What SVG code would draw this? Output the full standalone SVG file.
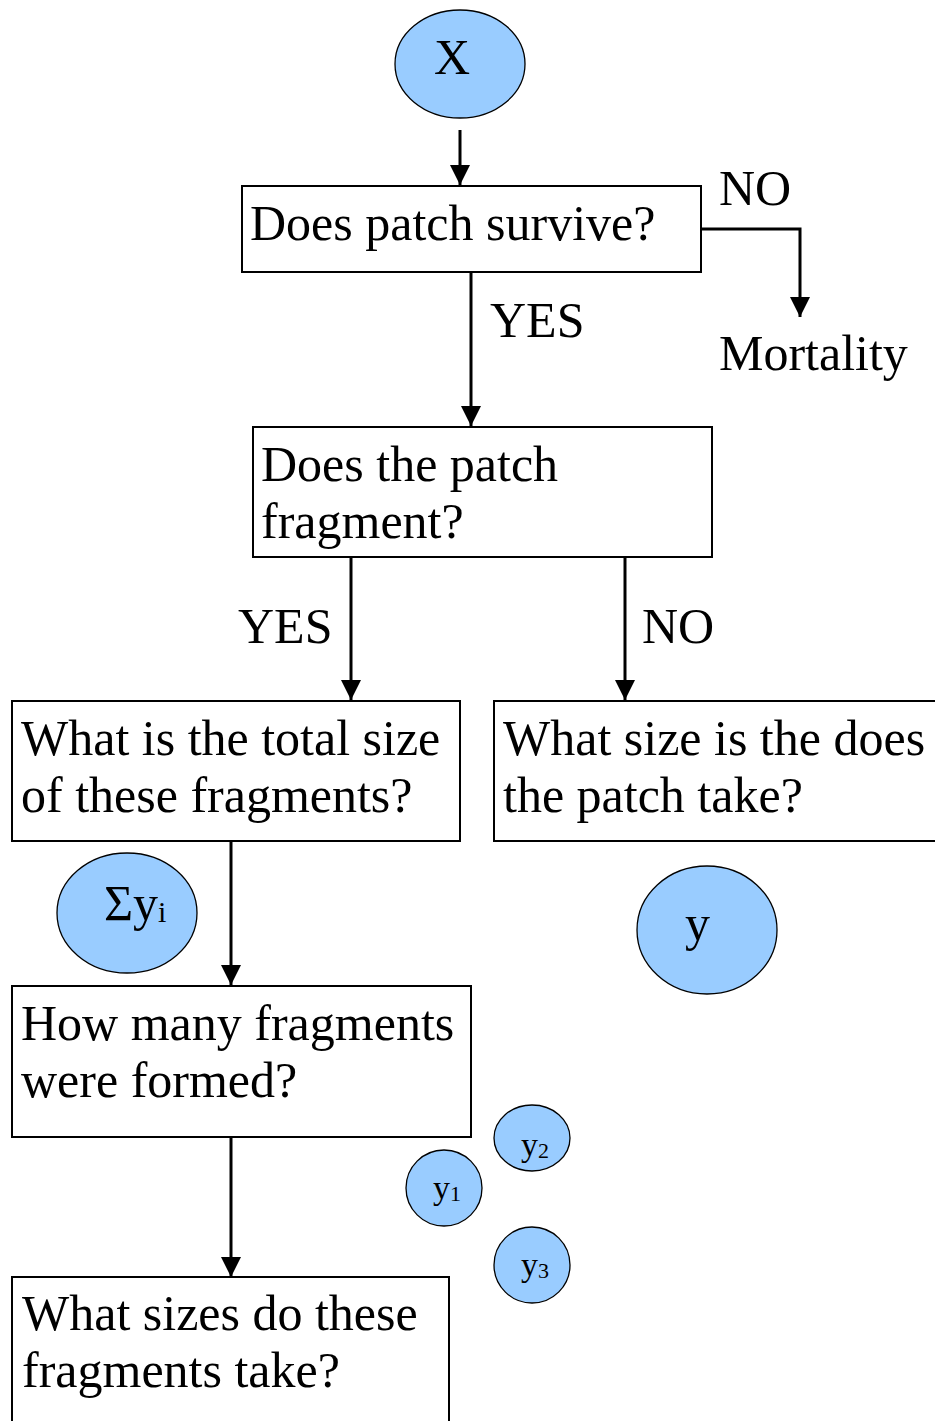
<svg xmlns="http://www.w3.org/2000/svg" width="935" height="1421" viewBox="0 0 935 1421">
  <style>
    .box { fill: #ffffff; stroke: #000000; stroke-width: 2; }
    .bubble { fill: #99ccff; stroke: #000000; stroke-width: 1.3; }
    .t { font-family: "Liberation Serif", "Times New Roman", serif; font-size: 50px; fill: #000000; }
    .sub { font-size: 30px; }
    .st { font-family: "Liberation Serif", "Times New Roman", serif; font-size: 34px; fill: #000000; }
    .ss { font-size: 22px; }
    .edge { fill: none; stroke: #000000; stroke-width: 3; }
  </style>
  <defs>
    <marker id="arrow" markerUnits="userSpaceOnUse" markerWidth="20" markerHeight="20" viewBox="0 0 20 20" refX="20" refY="10" orient="auto">
      <path d="M0,0 L20,10 L0,20 Z" fill="#000000"/>
    </marker>
  </defs>
  <rect width="935" height="1421" fill="#ffffff"/>

  <g id="connectors">
    <line class="edge" x1="460" y1="130" x2="460" y2="185" marker-end="url(#arrow)"/>
    <polyline class="edge" points="701,229 800,229 800,317" marker-end="url(#arrow)"/>
    <line class="edge" x1="471" y1="272" x2="471" y2="426" marker-end="url(#arrow)"/>
    <line class="edge" x1="351" y1="557" x2="351" y2="700" marker-end="url(#arrow)"/>
    <line class="edge" x1="625" y1="557" x2="625" y2="700" marker-end="url(#arrow)"/>
    <line class="edge" x1="231" y1="841" x2="231" y2="985" marker-end="url(#arrow)"/>
    <line class="edge" x1="231" y1="1137" x2="231" y2="1277" marker-end="url(#arrow)"/>
  </g>

  <g id="labels">
    <text class="t" x="719" y="205">NO</text>
    <text class="t" x="719" y="370">Mortality</text>
    <text class="t" x="490" y="337">YES</text>
    <text class="t" x="238" y="643">YES</text>
    <text class="t" x="642" y="643">NO</text>
  </g>

  <g id="node-x">
    <ellipse class="bubble" cx="460" cy="64" rx="65" ry="54"/>
    <text class="t" x="452" y="74" text-anchor="middle">X</text>
  </g>

  <g id="node-survive">
    <rect class="box" x="242" y="186" width="459" height="86"/>
    <text class="t" x="250" y="240">Does patch survive?</text>
  </g>

  <g id="node-fragment">
    <rect class="box" x="253" y="427" width="459" height="130"/>
    <text class="t" x="261" y="481">Does the patch</text>
    <text class="t" x="261" y="538">fragment?</text>
  </g>

  <g id="node-total-size">
    <rect class="box" x="12" y="701" width="448" height="140"/>
    <text class="t" x="21" y="755">What is the total size</text>
    <text class="t" x="21" y="812">of these fragments?</text>
  </g>

  <g id="node-patch-size">
    <rect class="box" x="494" y="701" width="460" height="140"/>
    <text class="t" x="503" y="755">What size is the does</text>
    <text class="t" x="503" y="812">the patch take?</text>
  </g>

  <g id="node-sum">
    <ellipse class="bubble" cx="127" cy="913" rx="70" ry="60"/>
    <text class="t" x="104" y="920">Σy<tspan class="sub" dy="2">i</tspan></text>
  </g>

  <g id="node-y">
    <ellipse class="bubble" cx="707" cy="930" rx="70" ry="64"/>
    <text class="t" x="685" y="940">y</text>
  </g>

  <g id="node-count">
    <rect class="box" x="12" y="986" width="459" height="151"/>
    <text class="t" x="21" y="1040">How many fragments</text>
    <text class="t" x="21" y="1097">were formed?</text>
  </g>

  <g id="node-y2">
    <ellipse class="bubble" cx="532" cy="1138" rx="38" ry="33"/>
    <text class="st" x="521" y="1156">y<tspan class="ss" dy="2">2</tspan></text>
  </g>

  <g id="node-y1">
    <ellipse class="bubble" cx="444" cy="1188" rx="38" ry="38"/>
    <text class="st" x="433" y="1199">y<tspan class="ss" dy="2">1</tspan></text>
  </g>

  <g id="node-y3">
    <ellipse class="bubble" cx="532" cy="1265" rx="38" ry="38"/>
    <text class="st" x="521" y="1276">y<tspan class="ss" dy="2">3</tspan></text>
  </g>

  <g id="node-sizes">
    <rect class="box" x="12" y="1277" width="437" height="160"/>
    <text class="t" x="22" y="1330">What sizes do these</text>
    <text class="t" x="22" y="1387">fragments take?</text>
  </g>
</svg>
